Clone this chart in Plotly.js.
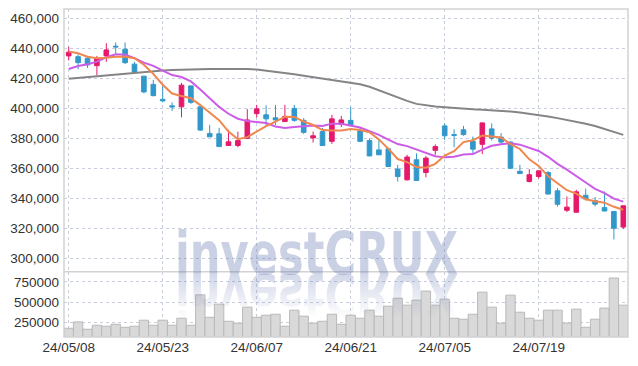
<!DOCTYPE html>
<html>
<head>
<meta charset="utf-8">
<script src="https://cdn.plot.ly/plotly-3.0.1.min.js"></script>
<style>
  html, body { margin: 0; padding: 0; background: #ffffff; }
  #wrap { position: relative; width: 638px; height: 366px; }
  #chart { position: absolute; left: 0; top: 0; width: 638px; height: 366px; }
  #wm { position: absolute; left: 0; top: 0; pointer-events: none; }
</style>
</head>
<body>
<div id="wrap">
  <div id="chart"></div>
  <svg id="wm" width="638" height="366" xmlns="http://www.w3.org/2000/svg">
    <defs>
      <linearGradient id="fade" x1="0" y1="0" x2="0" y2="1">
        <stop offset="0" stop-color="#fff" stop-opacity="0.85"/>
        <stop offset="1" stop-color="#fff" stop-opacity="0"/>
      </linearGradient>
      <mask id="m" maskUnits="userSpaceOnUse" x="0" y="0" width="638" height="366">
        <rect x="0" y="274" width="638" height="44" fill="url(#fade)"/>
      </mask>
    </defs>
    <g opacity="0.36" fill="rgb(112,129,184)">
      <text x="175" y="274" textLength="283" lengthAdjust="spacingAndGlyphs" font-family="DejaVu Sans" font-weight="bold" font-size="58">investCRUX</text>
    </g>
    <g mask="url(#m)">
      <g opacity="0.36" fill="rgb(112,129,184)" transform="translate(0,548) scale(1,-1)">
        <text x="175" y="274" textLength="283" lengthAdjust="spacingAndGlyphs" font-family="DejaVu Sans" font-weight="bold" font-size="58">investCRUX</text>
      </g>
    </g>
  </svg>
</div>
<script>
// ---- data ----
const dates = ['24/05/08','24/05/09','24/05/10','24/05/13','24/05/14','24/05/16','24/05/17','24/05/20','24/05/21','24/05/22',
  '24/05/23','24/05/24','24/05/27','24/05/28','24/05/29','24/05/30','24/05/31','24/06/03','24/06/04','24/06/05',
  '24/06/07','24/06/10','24/06/11','24/06/12','24/06/13','24/06/14','24/06/17','24/06/18','24/06/19','24/06/20',
  '24/06/21','24/06/24','24/06/25','24/06/26','24/06/27','24/06/28','24/07/01','24/07/02','24/07/03','24/07/04',
  '24/07/05','24/07/08','24/07/09','24/07/10','24/07/11','24/07/12','24/07/15','24/07/16','24/07/17','24/07/18',
  '24/07/19','24/07/22','24/07/23','24/07/24','24/07/25','24/07/26','24/07/29','24/07/30','24/07/31','24/08/01'];

const openP = [435000,434500,433500,428500,435000,441500,439500,429500,421500,416000,
  406000,401700,401000,415000,401000,383300,383000,375200,375200,380000,
  396500,395700,393700,391200,400000,392000,380300,384500,378000,389400,
  392000,385000,378500,372300,373000,359500,352300,365700,357200,372000,
  388300,382500,385700,378000,376000,386300,380800,377500,358000,351200,
  354500,357200,345000,332000,330700,342000,338500,333800,331200,320800];
const highP = [441000,436000,435000,435000,443500,444000,444000,431000,421500,419000,
  415000,404000,417000,415000,401200,389000,387000,385700,384500,399500,
  402300,402000,402300,402300,402300,393500,384500,387000,395700,395000,
  401000,387000,380000,379500,373000,362300,369000,370000,368300,376000,
  390000,386000,388300,381200,390500,390000,383500,378000,362300,359400,
  358500,358000,346800,341200,345700,346500,340800,344600,331200,335000];
const lowP = [432000,426000,427000,422000,431000,436500,429500,423000,410000,408000,
  404000,398300,394000,403000,385000,381000,374500,375000,374000,379500,
  394000,387500,389000,391000,391000,383000,377200,375000,376300,387500,
  388000,377500,368000,369000,361000,351200,351900,351900,354000,369000,
  379000,374000,381700,370000,369500,378500,375700,360000,356500,350500,
  353200,342800,334500,330800,330500,338500,334500,331500,312500,319500];
const closeP = [437500,430500,429000,433000,439000,441000,430500,424000,411000,408500,
  405000,401000,415500,404000,385500,381000,374500,377700,378500,392300,
  399700,393000,392300,394600,392000,384000,381700,375200,393000,392300,
  389000,378000,368300,369000,361200,354500,367500,351900,366800,374500,
  381700,382000,382500,372800,390300,380100,377500,360000,356500,355700,
  358300,342800,336000,334100,344300,339500,336100,331500,320000,335000];

const ma5 = [437900,436800,434500,433500,433800,434500,434500,433500,429100,423000,
  415800,409900,408200,406800,402200,397400,392100,384500,379400,380800,
  384500,388200,391200,394400,394300,391200,388900,385500,385200,385200,
  386200,385500,384100,379300,373100,366200,364100,360800,360400,363000,
  368500,371400,377500,378700,381900,381500,380600,376100,372900,366000,
  361600,354700,349900,345400,343100,339300,338000,337100,334300,332400];
const ma10 = [426300,428300,429500,431200,434100,436100,435700,433500,430500,428400,
  425200,422200,420900,418000,412600,406600,401000,396400,393100,391500,
  391000,390200,387900,386900,387600,387900,388600,388300,389800,389800,
  388700,387200,384800,382300,379200,376200,374800,372500,369900,368100,
  367300,367700,369200,369500,372500,375000,376000,376800,375800,373900,
  371600,367700,363000,359100,354500,350500,346300,343500,339800,337800];
const ma60 = [419700,420300,420900,421500,422000,422600,423300,424000,424500,425000,
  425300,425600,425900,426100,426200,426300,426300,426400,426500,426300,
  425900,425200,424500,423500,422700,421800,420900,420000,419200,418300,
  417300,416100,414400,412000,409600,407300,405000,403000,402000,401300,
  400800,400200,399800,399400,399100,398800,398500,397900,397200,396500,
  395700,394600,393500,392400,391000,389700,388200,386400,384400,382300];

const volume = [181000,259000,169000,218000,206000,230000,193000,206000,280000,218000,
  280000,218000,304000,218000,591000,316000,477000,267000,243000,440000,
  316000,341000,353000,206000,403000,329000,243000,267000,353000,230000,
  341000,304000,403000,329000,452000,550000,464000,526000,637000,464000,
  538000,304000,292000,353000,624000,440000,243000,587000,378000,304000,
  280000,403000,403000,246000,415000,193000,292000,428000,797000,464000];

const tickDates = ['24/05/08','24/05/23','24/06/07','24/06/21','24/07/05','24/07/19'];
const priceTicks = [300000,320000,340000,360000,380000,400000,420000,440000,460000];
const volTicks = [250000,500000,750000];

// ---- traces ----
const RED = '#e5196b', BLUE = '#3298cb';
const traces = [
  { type: 'bar', x: dates, y: volume, xaxis: 'x', yaxis: 'y2',
    marker: { color: '#d9d9d9', line: { color: '#b9b9b9', width: 1 } }, hoverinfo: 'skip' },
  { type: 'candlestick', x: dates, open: openP, high: highP, low: lowP, close: closeP,
    xaxis: 'x', yaxis: 'y', whiskerwidth: 0,
    increasing: { line: { color: RED, width: 1 }, fillcolor: RED },
    decreasing: { line: { color: BLUE, width: 1 }, fillcolor: BLUE } },
  { type: 'scatter', mode: 'lines', x: dates, y: ma60, xaxis: 'x', yaxis: 'y',
    line: { color: '#858585', width: 2 } },
  { type: 'scatter', mode: 'lines', x: dates, y: ma10, xaxis: 'x', yaxis: 'y',
    line: { color: '#cc5ce8', width: 2 } },
  { type: 'scatter', mode: 'lines', x: dates, y: ma5, xaxis: 'x', yaxis: 'y',
    line: { color: '#ef874e', width: 2 } }
];

const gridC = '#c9cedc';
const fontTick = { family: 'Liberation Sans, Arial, sans-serif', size: 13.5, color: '#333333' };

const layout = {
  width: 638, height: 366,
  margin: { l: 64, r: 10, t: 9, b: 29 },
  paper_bgcolor: 'rgba(0,0,0,0)', plot_bgcolor: 'rgba(0,0,0,0)',
  showlegend: false,
  bargap: 0,
  xaxis: {
    type: 'category', categoryorder: 'array', categoryarray: dates,
    range: [-0.5, dates.length - 0.5],
    anchor: 'y2',
    tickmode: 'array', tickvals: tickDates, ticktext: tickDates,
    showgrid: true, gridcolor: gridC, griddash: 'dot', gridwidth: 1,
    showline: false, zeroline: false, ticks: '',
    tickfont: { family: fontTick.family, size: 13.5, color: '#333333' },
    rangeslider: { visible: false }, fixedrange: true
  },
  yaxis: {
    domain: [0.199, 1],
    range: [291000, 466300],
    tickmode: 'array', tickvals: priceTicks, tickformat: ',d',
    showgrid: true, gridcolor: gridC, griddash: 'dot', gridwidth: 1,
    zeroline: false, showline: false, ticks: '',
    tickfont: fontTick, ticklabelstandoff: 4
  },
  yaxis2: {
    domain: [0, 0.199],
    range: [74000, 874000],
    tickmode: 'array', tickvals: volTicks, tickformat: 'd',
    showgrid: true, gridcolor: gridC, griddash: 'dot', gridwidth: 1,
    zeroline: false, showline: false, ticks: '',
    tickfont: fontTick, ticklabelstandoff: 4
  },
  shapes: [
    { type: 'rect', xref: 'paper', yref: 'paper', x0: 0, x1: 1, y0: 0, y1: 1,
      line: { color: '#d2d2d2', width: 1.5 } },
    { type: 'line', xref: 'paper', yref: 'paper', x0: 0, x1: 1, y0: 0.199, y1: 0.199,
      line: { color: '#d2d2d2', width: 1.5 } }
  ]
};

Plotly.newPlot('chart', traces, layout, { displayModeBar: false, staticPlot: true });
</script>
</body>
</html>
